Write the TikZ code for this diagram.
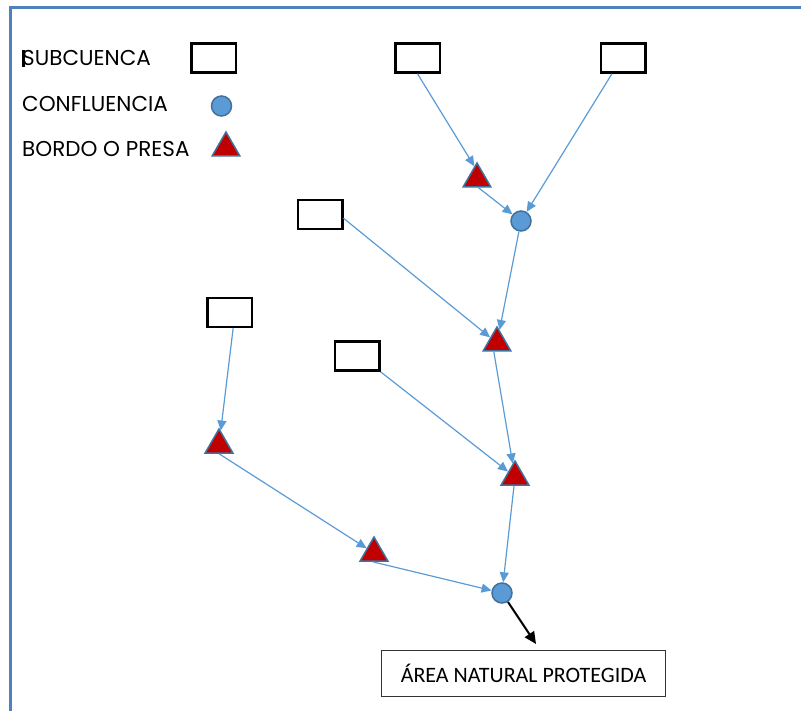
\documentclass[tikz,border=0pt]{standalone}
\usepackage{fontspec}
\setmainfont{Poppins}
\newfontfamily\calib{Carlito}
\usetikzlibrary{shapes.geometric,arrows.meta}
\definecolor{lineblue}{RGB}{91,155,213}
\definecolor{edgeblue}{RGB}{65,113,156}
\definecolor{damred}{RGB}{192,0,0}
\definecolor{frameblue}{RGB}{79,129,189}
\begin{document}
\begin{tikzpicture}[x=1pt,y=-1pt,
 basin/.style={draw=black,line width=2.5pt,minimum width=44.5pt,minimum height=29pt,inner sep=0pt},
 conf/.style={circle,fill=lineblue,draw=edgeblue,line width=1.5pt,minimum size=20pt,inner sep=0pt},
 dam/.style={regular polygon,regular polygon sides=3,fill=damred,draw=edgeblue,line width=1.5pt,minimum size=32pt,inner sep=0pt},
 flow/.style={draw=lineblue,line width=1.2pt,-{Triangle[length=10pt,width=9pt]}},
 legend/.style={anchor=west,inner sep=0pt,font=\fontsize{21.5}{24}\selectfont}]
\useasboundingbox (0,0) rectangle (801,711);
\draw[frameblue,line width=3pt] (10,711) -- (10,8) -- (801,8);
% legend
\fill[black] (22,50) rectangle (24.5,67);
\node[legend] (lsub) at (22,57.5) {SUBCUENCA};
\node[legend] (lcon) at (22,103.5) {CONFLUENCIA};
\node[legend] (lbor) at (22,148.5) {BORDO O PRESA};
\node[basin] (lbox) at (213.5,58) {};
\node[conf] (lcirc) at (221.5,106) {};
\node[dam] (ltri) at (226,148) {};
% basins
\node[basin] (B1) at (417.5,58) {};
\node[basin] (B2) at (623,58) {};
\node[basin] (B3) at (320,214.5) {};
\node[basin] (B4) at (229.5,312.5) {};
\node[basin] (B5) at (357,356) {};
% dams
\node[dam] (T1) at (477,179) {};
\node[dam] (T2) at (497,343) {};
\node[dam] (T3) at (515,477) {};
\node[dam] (T4) at (219,445) {};
\node[dam] (T5) at (374,553) {};
% confluences
\node[conf] (C1) at (521,221) {};
\node[conf] (C2) at (502,593) {};
% protected area
\node[draw=black!80,line width=1.2pt,minimum width=284pt,minimum height=46pt,inner sep=0pt,font=\calib\fontsize{22}{25}\selectfont] (ANP) at (523.5,673.5) {ÁREA NATURAL PROTEGIDA};
\coordinate (tip) at (536,644);
% flows
\draw[flow] (B1.south) -- (T1.102);
\draw[flow] (B2.235) -- (C1);
\draw[flow] (T1.-80) -- (C1);
\draw[flow] (B3.-9) -- (T2);
\draw[flow] (C1) -- (T2);
\draw[flow] (B4.283) -- (T4);
\draw[flow] (B5.south east) -- (T3);
\draw[flow] (T2.-110) -- (T3);
\draw[flow] (T3) -- (C2);
\draw[flow] (T4.-90) -- (T5);
\draw[flow] (T5.-100) -- (C2);
\draw[black,line width=2pt,-{Triangle[length=12pt,width=11pt]}] (C2) -- (tip);
\end{tikzpicture}
\end{document}
